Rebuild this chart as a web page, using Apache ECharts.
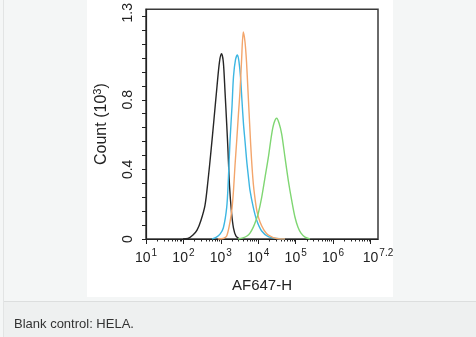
<!DOCTYPE html>
<html><head><meta charset="utf-8">
<script src="https://cdn.jsdelivr.net/npm/echarts@6/dist/echarts.min.js"></script>
<style>html,body{margin:0;padding:0;background:#f4f6f6;}#c{width:476px;height:337px;}</style>
</head><body><div id="c"></div>
<script>
// Fluorescence intensity (AF647-H) and counts (x10^3)
var blackX = [97.5,132,180,231,295,377,454,546,656,789,920,1042,1164,1292,1435,1554,1704,1928,2179,2541,3251];
var blackY = [0,0.003,0.023,0.051,0.108,0.193,0.336,0.506,0.688,0.876,1.018,1.064,1.018,0.848,0.660,0.506,0.307,0.154,0.063,0.017,0];
var blueX = [581,743,951,1164,1435,1583,1757,1988,2179,2466,2788,3056,3352,3680,4034,4424,4911,5486,6015,7365,9078,12350,18550,31100,51900];
var blueY = [0,0.009,0.028,0.063,0.182,0.336,0.563,0.762,0.933,1.030,1.058,1.018,0.933,0.791,0.660,0.563,0.449,0.353,0.279,0.182,0.108,0.046,0.014,0.003,0];
var orangeX = [840,1164,1435,1757,1988,2179,2388,2653,2965,3251,3565,3983,4424,4853,5322,6015,6596,7365,8177,9250,11140,14230,18550,31100,51900];
var orangeY = [0,0.003,0.017,0.097,0.176,0.279,0.421,0.563,0.723,0.848,1.018,1.189,1.132,1.018,0.848,0.620,0.461,0.319,0.233,0.159,0.097,0.051,0.023,0.003,0];
var greenX = [2877,3908,5000,6015,7365,8710,10030,12350,15140,18550,22860,26350,31100,35840,42300,51900,63550,78300,95900,115400,138800,177500,241300];
var greenY = [0,0.006,0.017,0.034,0.068,0.108,0.148,0.239,0.353,0.467,0.603,0.666,0.694,0.666,0.603,0.467,0.336,0.222,0.125,0.068,0.034,0.011,0];
var xTickExp = [1,2,3,4,5,6,7.2];
var yTicks = [0,0.4,0.8,1.3];

function pts(xs, ys){ return xs.map(function(x,i){ return [Math.log10(x), ys[i]]; }); }
var majorX = [1,2,3,4,5,6,7];
var minorX = [];
for (var d=1; d<=7; d++){ for (var k=2;k<=9;k++){ var v=d+Math.log10(k); if (v<7.2) minorX.push(v);} }
var minorY = [];
for (var m=0; m<=16; m++){ minorY.push(+(m*0.08).toFixed(2)); }

var chart = echarts.init(document.getElementById('c'), null, {renderer:'canvas'});
var font = 'Liberation Sans, Arial, sans-serif';
function ser(xs, ys, color){
  return {type:'line', data:pts(xs,ys), showSymbol:false, smooth:0.3, lineStyle:{color:color,width:1.4}, itemStyle:{color:color}, z:3};
}
chart.setOption({
  animation:false,
  graphic:[
    {type:'rect', shape:{x:87,y:0,width:306,height:297}, style:{fill:'#ffffff'}, z:-10},
    {type:'rect', shape:{x:3,y:302,width:473,height:35}, style:{fill:'#eef0f0'}, z:-10},
    {type:'line', shape:{x1:3,y1:301.5,x2:476,y2:301.5}, style:{stroke:'#dcdede',lineWidth:1}, z:-9},
    {type:'line', shape:{x1:3.5,y1:0,x2:3.5,y2:337}, style:{stroke:'#e2e4e4',lineWidth:1}, z:-9},
    {type:'text', left:14, top:318, style:{text:'Blank control: HELA.', font:'13px '+font, fill:'#333'}}
  ],
  grid:{left:146, top:7, right:98, bottom:98, show:true, borderColor:'#3a3a3a', borderWidth:1.5, backgroundColor:'transparent'},
  xAxis:[{
    type:'value', min:1, max:7.2, gridIndex:0,
    name:'AF647-H', nameLocation:'middle', nameGap:39,
    nameTextStyle:{fontSize:15, fontFamily:font, color:'#222'},
    axisLine:{show:true, lineStyle:{color:'#222', width:1.2}},
    axisTick:{show:true, customValues:majorX, length:5, inside:false, lineStyle:{color:'#222'}},
    axisLabel:{show:true, customValues:xTickExp, margin:9,
      formatter:function(v){ var e = Math.abs(v-7.2)<1e-6 ? '7.2' : String(Math.round(v)); return '{b|10}{s|'+e+'}'; },
      rich:{b:{fontSize:14, fontFamily:font, color:'#222', verticalAlign:'bottom', lineHeight:17},
            s:{fontSize:10, fontFamily:font, color:'#222', verticalAlign:'top', padding:[0,0,9,1], lineHeight:17}}},
    splitLine:{show:false}
  },{
    type:'value', min:1, max:7.2, gridIndex:0, position:'bottom',
    axisLine:{show:false}, axisLabel:{show:false}, splitLine:{show:false},
    axisTick:{show:true, customValues:minorX, length:2.5, lineStyle:{color:'#222'}}
  }],
  yAxis:[{
    type:'value', min:0, max:1.32,
    name:'{t|Count (10}{s|3}{t|)}', nameLocation:'middle', nameGap:34, nameRotate:90,
    nameTextStyle:{rich:{t:{fontSize:16, fontFamily:font, color:'#222'}, s:{fontSize:11, fontFamily:font, color:'#222', padding:[0,0,9,0]}}},
    axisLine:{show:true, lineStyle:{color:'#222', width:1.2}},
    axisTick:{show:true, customValues:minorY, length:4, lineStyle:{color:'#222'}},
    axisLabel:{show:true, customValues:yTicks, rotate:90, margin:11, fontSize:14, fontFamily:font, color:'#222',
      formatter:function(v){ return String(v); }},
    splitLine:{show:false}
  }],
  series:[
    ser(blackX, blackY, '#262626'),
    ser(blueX, blueY, '#3db6e2'),
    ser(orangeX, orangeY, '#f3a56b'),
    ser(greenX, greenY, '#7fd672')
  ]
});
</script></body></html>
